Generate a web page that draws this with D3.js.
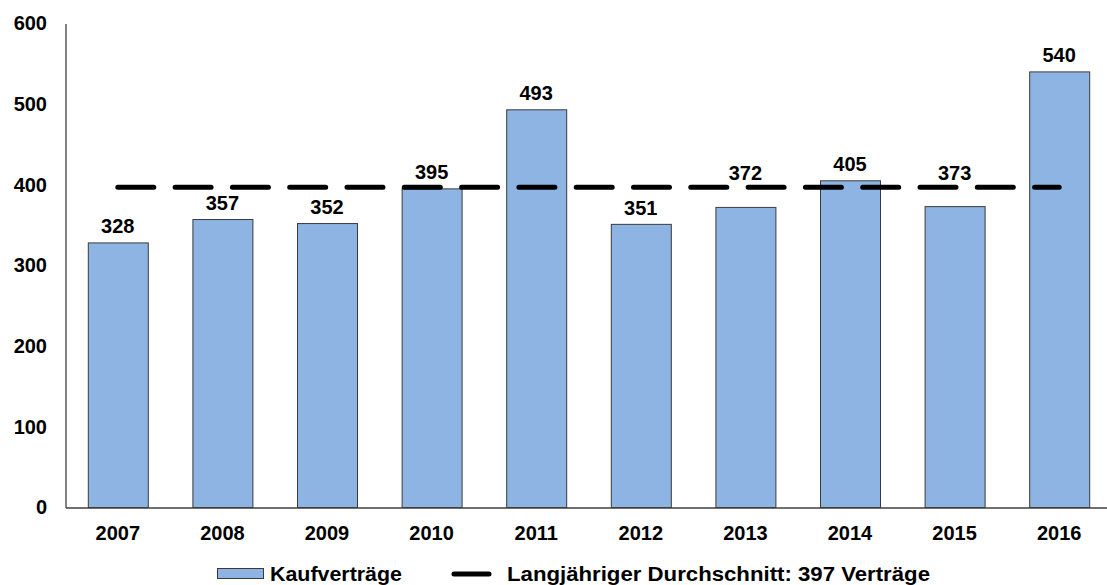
<!DOCTYPE html>
<html>
<head>
<meta charset="utf-8">
<script src="https://cdn.jsdelivr.net/npm/d3@7"></script>
<style>
  html, body { margin: 0; padding: 0; background: #fff; }
  svg { display: block; }
  text { font-family: "Liberation Sans", Arial, sans-serif; font-weight: bold; fill: #000; }
</style>
</head>
<body>
<svg id="chart" width="1107" height="585"></svg>
<script>
const years = ["2007","2008","2009","2010","2011","2012","2013","2014","2015","2016"];
const contracts = [328, 357, 352, 395, 493, 351, 372, 405, 373, 540];
const averageValue = 397;
const yTicks = [0, 100, 200, 300, 400, 500, 600];
const legendLabels = ["Kaufverträge", "Langjähriger Durchschnitt: 397 Verträge"];

const svg = d3.select("#chart");
const plotLeft = 65.5, plotRight = 1111.5, plotTop = 23.5, plotBottom = 507.5;
const barColor = "#8DB4E2";

const x = d3.scaleBand().domain(years).range([plotLeft, plotRight])
  .paddingInner(0.4264).paddingOuter(0.2132);
const y = d3.scaleLinear().domain([0, 600]).range([plotBottom, plotTop]);

// bars
svg.append("g").selectAll("rect").data(years).join("rect")
  .attr("x", d => x(d) + 0.5)
  .attr("y", (d, i) => y(contracts[i]))
  .attr("width", x.bandwidth())
  .attr("height", (d, i) => y(0) - y(contracts[i]))
  .attr("fill", barColor)
  .attr("stroke", "#3a3a3a")
  .attr("stroke-width", 1);

// average dashed line
const avgY = y(averageValue);
const line = d3.line().x(d => x(d) + x.bandwidth() / 2).y(() => avgY);
svg.append("path").datum(years)
  .attr("d", line)
  .attr("fill", "none")
  .attr("stroke", "#000")
  .attr("stroke-width", 5)
  .attr("stroke-linecap", "round")
  .attr("stroke-dasharray", "36,21.3");

// axes
const yAxis = d3.axisLeft(y).tickValues(yTicks).tickSize(0).tickPadding(18.5).tickSizeOuter(0);
const gy = svg.append("g").attr("transform", `translate(${plotLeft},0)`).call(yAxis);
gy.select(".domain").attr("stroke", "#404040").attr("stroke-width", 1.3);
gy.selectAll("text").attr("font-size", 20).attr("font-family", "Liberation Sans, Arial, sans-serif").attr("font-weight", "bold").attr("fill", "#000");

const xAxis = d3.axisBottom(x).tickSize(0).tickPadding(18.3).tickSizeOuter(0);
const gx = svg.append("g").attr("transform", `translate(0,${plotBottom})`).call(xAxis);
gx.select(".domain").attr("stroke", "#404040").attr("stroke-width", 1.3);
gx.selectAll("text").attr("font-size", 20).attr("font-family", "Liberation Sans, Arial, sans-serif").attr("font-weight", "bold").attr("fill", "#000");

// data labels (lifted above the average line when they would collide with it)
const gap = 9.5, capH = 14.5;
svg.append("g").selectAll("text").data(years).join("text")
  .attr("x", d => x(d) + x.bandwidth() / 2)
  .attr("y", (d, i) => {
    let base = y(contracts[i]) - gap;
    if (base > avgY - 3 && base - capH < avgY + 3) base = avgY - 7;
    return base;
  })
  .attr("text-anchor", "middle")
  .attr("font-size", 20)
  .text((d, i) => contracts[i]);

// legend
const lg = svg.append("g");
lg.append("rect").attr("x", 217.5).attr("y", 568.5).attr("width", 46).attr("height", 10)
  .attr("fill", barColor).attr("stroke", "#3a3a3a").attr("stroke-width", 1);
lg.append("text").attr("x", 270).attr("y", 581).attr("font-size", 20)
  .attr("textLength", 132).attr("lengthAdjust", "spacingAndGlyphs").text(legendLabels[0]);
lg.append("line").attr("x1", 454).attr("x2", 489).attr("y1", 574).attr("y2", 574)
  .attr("stroke", "#000").attr("stroke-width", 5).attr("stroke-linecap", "round");
lg.append("text").attr("x", 507).attr("y", 581).attr("font-size", 20)
  .attr("textLength", 423).attr("lengthAdjust", "spacingAndGlyphs").text(legendLabels[1]);
</script>
</body>
</html>
